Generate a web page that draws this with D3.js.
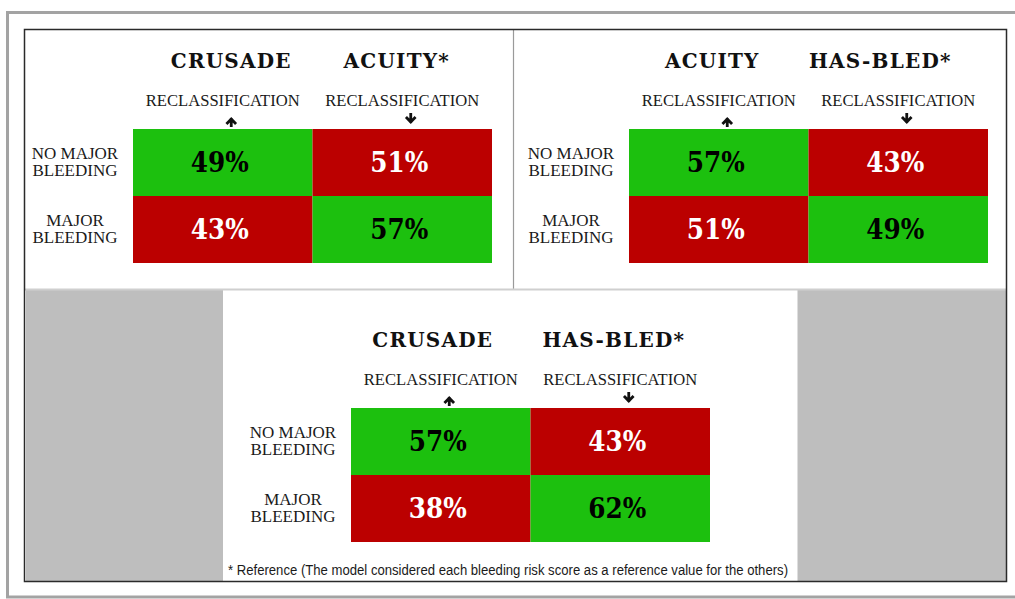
<!DOCTYPE html>
<html>
<head>
<meta charset="utf-8" />
<title>Bleeding risk score reclassification</title>
<style>
html, body {
  margin: 0;
  padding: 0;
  background-color: #FFFFFF;
  overflow: hidden;
}
svg {
  display: block;
}
</style>
<script src="https://d3js.org/d3.v7.min.js"></script>
</head>
<body>
<script>

// ---- data ----
var panelScores = [
  ["CRUSADE", "ACUITY*"],
  ["ACUITY", "HAS-BLED*"],
  ["CRUSADE", "HAS-BLED*"]
];
var panelValues = [
  [[49, 51], [43, 57]],
  [[57, 43], [51, 49]],
  [[57, 43], [38, 62]]
];
var rowLabels = [["NO MAJOR", "BLEEDING"], ["MAJOR", "BLEEDING"]];
var colSubLabel = "RECLASSIFICATION";
var arrowDirs = ["up", "down"];
var cellKind = [["green", "red"], ["red", "green"]];
var footnote = "* Reference (The model considered each bleeding risk score as a reference value for the others)";

// ---- layout ----
var W = 1015, H = 599;
var panelPos = [[133, 129], [629, 129], [351, 408]];
var headerShift = [[8.5, -5.5], [-6.5, -18], [-8, -6.5]];
var gridW = 359, gridH = 134;
var fills = {green: "#1cc00e", red: "#bb0000"};
var textFill = {green: "#000", red: "#fff"};

var svg = d3.select("body").append("svg")
  .attr("width", W)
  .attr("height", H);

// frames
svg.append("rect")
  .attr("x", 7.5).attr("y", 12.5)
  .attr("width", 1040).attr("height", 584.5)
  .attr("fill", "#fff")
  .attr("stroke", "#a3a3a3").attr("stroke-width", 3);

svg.append("rect").attr("x", 26).attr("y", 290).attr("width", 197).attr("height", 291).attr("fill", "#bebebe");
svg.append("rect").attr("x", 797).attr("y", 290).attr("width", 209).attr("height", 291).attr("fill", "#bebebe");
svg.append("line").attr("x1", 797.5).attr("x2", 797.5).attr("y1", 290).attr("y2", 581)
  .attr("stroke", "#dedede").attr("stroke-width", 1);

svg.append("line")
  .attr("x1", 513.5).attr("x2", 513.5).attr("y1", 30).attr("y2", 289)
  .attr("stroke", "#9a9a9a").attr("stroke-width", 1.2);
svg.append("line")
  .attr("x1", 25).attr("x2", 1006).attr("y1", 289.5).attr("y2", 289.5)
  .attr("stroke", "#cfcfcf").attr("stroke-width", 2);

svg.append("rect")
  .attr("x", 24.5).attr("y", 29.5)
  .attr("width", 982).attr("height", 552)
  .attr("fill", "none")
  .attr("stroke", "#2a2a2a").attr("stroke-width", 1.5);

// scales
var xBand = d3.scaleBand().domain([0, 1]).range([0, gridW]).padding(0);
var yBand = d3.scaleBand().domain([0, 1]).range([0, gridH]).padding(0);

panelScores.forEach(function(scores, p) {
  var g = svg.append("g")
    .attr("transform", "translate(" + panelPos[p][0] + "," + panelPos[p][1] + ")");

  // cells
  for (var r = 0; r < 2; r++) {
    for (var c = 0; c < 2; c++) {
      var kind = cellKind[r][c];
      g.append("rect")
        .attr("x", xBand(c)).attr("y", yBand(r))
        .attr("width", xBand.bandwidth()).attr("height", yBand.bandwidth())
        .attr("fill", fills[kind]);
      g.append("text")
        .attr("x", xBand(c) + xBand.bandwidth() / 2 - 3)
        .attr("y", yBand(r) + yBand.bandwidth() / 2 + 9.5)
        .attr("text-anchor", "middle")
        .attr("font-family", "'DejaVu Serif', serif")
        .attr("font-weight", "bold")
        .attr("font-size", 28)
        .attr("textLength", 58)
        .attr("lengthAdjust", "spacingAndGlyphs")
        .attr("fill", textFill[kind])
        .text(panelValues[p][r][c] + "%");
    }
  }

  // column headers
  scores.forEach(function(s, c) {
    var cx = xBand(c) + xBand.bandwidth() / 2;
    g.append("text")
      .attr("x", cx + headerShift[p][c])
      .attr("y", -61)
      .attr("text-anchor", "middle")
      .attr("font-family", "'DejaVu Serif', serif")
      .attr("font-weight", "bold")
      .attr("font-size", 20)
      .attr("letter-spacing", 1.2)
      .attr("fill", "#111")
      .text(s);
    g.append("text")
      .attr("x", cx)
      .attr("y", -23)
      .attr("text-anchor", "middle")
      .attr("font-family", "'Liberation Serif', serif")
      .attr("font-size", 17.5)
      .attr("textLength", 154)
      .attr("lengthAdjust", "spacingAndGlyphs")
      .attr("fill", "#1a1a1a")
      .text(colSubLabel);

    // arrow
    var ax = cx + 8.5;
    var up = arrowDirs[c] == "up";
    var y0 = up ? -11 : -16, y1 = up ? -2 : -6;
    var tip = up ? y0 + 1 : y1 - 1, dir = up ? 1 : -1;
    g.append("path")
      .attr("d", "M" + ax + "," + y0 + "V" + y1 +
        "M" + (ax - 4.8) + "," + (tip + dir * 5) + "L" + ax + "," + tip + "L" + (ax + 4.8) + "," + (tip + dir * 5))
      .attr("fill", "none")
      .attr("stroke", "#111")
      .attr("stroke-width", 2.8);
  });

  // row labels
  rowLabels.forEach(function(lines, r) {
    var cy = yBand(r) + yBand.bandwidth() / 2;
    var t = g.append("text")
      .attr("text-anchor", "middle")
      .attr("font-family", "'Liberation Serif', serif")
      .attr("font-size", 17)
      .attr("fill", "#1a1a1a");
    lines.forEach(function(line, i) {
      t.append("tspan")
        .attr("x", -58)
        .attr("y", cy + (i == 0 ? -4 : 13))
        .text(line);
    });
  });
});

// footnote
svg.append("text")
  .attr("x", 228)
  .attr("y", 575)
  .attr("font-family", "'Liberation Sans Narrow', 'Liberation Sans', sans-serif")
  .attr("font-size", 14)
  .attr("textLength", 560)
  .attr("lengthAdjust", "spacingAndGlyphs")
  .attr("fill", "#1a1a1a")
  .text(footnote);

</script>
</body>
</html>
